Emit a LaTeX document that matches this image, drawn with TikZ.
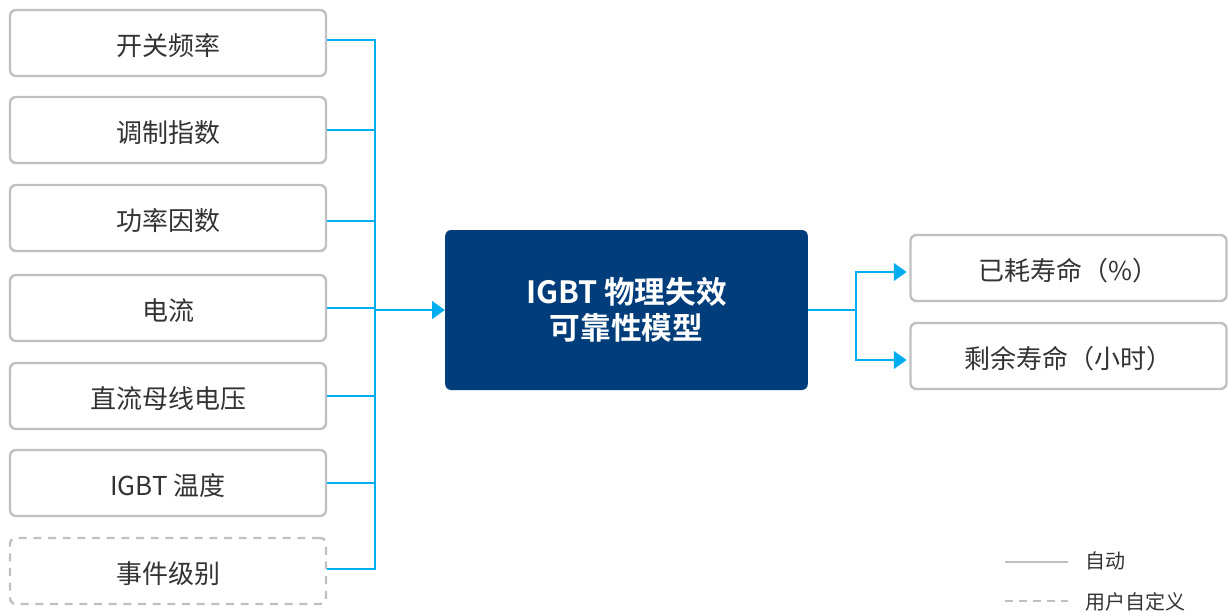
\documentclass[tikz,border=0pt]{standalone}
\usepackage{fontspec}
\setmainfont{Noto Sans CJK SC}
\newfontfamily\cjkb{Noto Sans CJK SC Bold}
\usetikzlibrary{arrows.meta}
\definecolor{boxgray}{HTML}{BFC0C2}
\definecolor{linkblue}{HTML}{00AEEF}
\definecolor{navy}{HTML}{023D7B}
\definecolor{txt}{HTML}{333333}
\tikzset{
  inbox/.style={draw=boxgray, line width=1.8pt, rounded corners=4.5pt, minimum width=237pt, minimum height=49.5pt, inner sep=0pt, text=txt, text height=18pt, text depth=0pt, font=\fontsize{19.5}{21}\selectfont},
  userbox/.style={inbox, dash pattern=on 6pt off 5pt},
  outbox/.style={inbox},
  core/.style={fill=navy, rounded corners=4.5pt, minimum width=272pt, minimum height=120pt, inner sep=0pt, text=white, align=center, font=\cjkb\fontsize{23}{27}\selectfont},
  link/.style={draw=linkblue, line width=1.9pt},
  arr/.style={link, -{Triangle[length=9.5pt, width=13pt]}},
  legtext/.style={anchor=west, text=txt, inner sep=0pt, font=\fontsize{15}{17}\selectfont}
}
\begin{document}
\begin{tikzpicture}[x=0.75pt,y=-0.75pt]
\useasboundingbox (0,0) rectangle (1228,615);
% left inputs
\node[inbox] (a1) at (168,43) {开关频率};
\node[inbox] (a2) at (168,130) {调制指数};
\node[inbox] (a3) at (168,218) {功率因数};
\node[inbox] (a4) at (168,308) {电流};
\node[inbox] (a5) at (168,396) {直流母线电压};
\node[inbox] (a6) at (168,483) {IGBT 温度};
\node[userbox] (a7) at (168,571) {事件级别};
% core
\node[core] (m) at (626.5,310) {IGBT 物理失效\\可靠性模型};
% outputs
\node[outbox] (o1) at (1068.5,268) {已耗寿命（\%）};
\node[outbox] (o2) at (1068.5,356) {剩余寿命（小时）};
% bus coordinates
\coordinate (bt) at (375,40);
\coordinate (bb) at (375,569);
\coordinate (bm) at (375,310);
\coordinate (rb) at (856,310);
% left connectors
\draw[link] (a1.east |- bt) -- (bt) -- (bb) -- (a7.east |- bb);
\draw[link] (a2.east) -- (a2.east -| bm);
\draw[link] ([yshift=-2.25pt]a3.east) -- ([yshift=-2.25pt]a3.east -| bm);
\draw[link] (a4.east) -- (a4.east -| bm);
\draw[link] (a5.east) -- (a5.east -| bm);
\draw[link] (a6.east) -- (a6.east -| bm);
\draw[arr] (bm) -- (m.west);
% right connectors
\draw[link] (m.east) -- (rb);
\draw[arr] (rb) |- ([xshift=-2pt,yshift=-3pt]o1.west);
\draw[arr] (rb) |- ([xshift=-2pt,yshift=-3pt]o2.west);
% legend
\coordinate (l1a) at (1005,562);
\coordinate (l1b) at (1068,562);
\coordinate (l2a) at (1005,601);
\coordinate (l2b) at (1068,601);
\draw[draw=boxgray, line width=1.9pt] (l1a) -- (l1b);
\draw[draw=boxgray, line width=1.9pt, dash pattern=on 6pt off 4.5pt] (l2a) -- (l2b);
\node[legtext] (t1) at (1085,561) {自动};
\node[legtext] (t2) at (1085,602) {用户自定义};
\end{tikzpicture}
\end{document}
